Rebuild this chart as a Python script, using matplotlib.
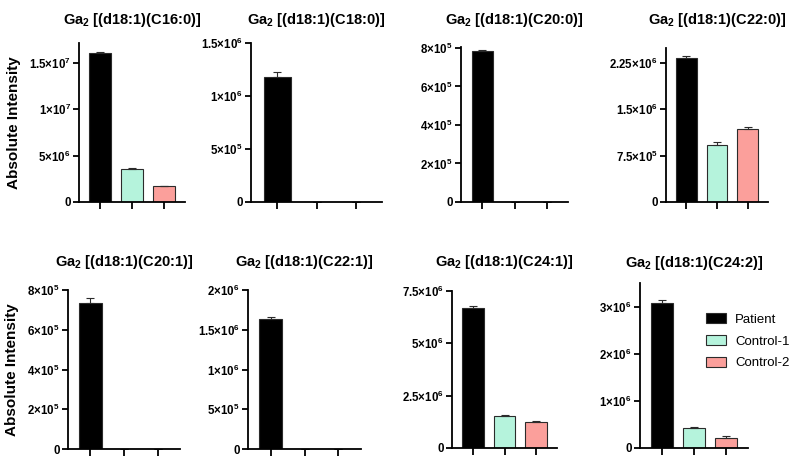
import numpy as np
import matplotlib.pyplot as plt
from matplotlib.patches import Patch

plt.rcParams['font.family'] = ['Liberation Sans', 'DejaVu Sans']
plt.rcParams['mathtext.fontset'] = 'custom'
plt.rcParams['mathtext.bf'] = 'Liberation Sans:bold'
plt.rcParams['mathtext.rm'] = 'Liberation Sans:bold'
plt.rcParams['mathtext.default'] = 'bf'

groups = ['Patient', 'Control-1', 'Control-2']
colors = ['#000000', '#b5f3dc', '#fb9f9b']

titles = ['C16:0', 'C18:0', 'C20:0', 'C22:0',
          'C20:1', 'C22:1', 'C24:1', 'C24:2']

# mittelwerte je panel (Patient, Control-1, Control-2)
means_c16_0 = [1.60e7, 3.50e6, 1.72e6]
means_c18_0 = [1.175e6, 0, 0]
means_c20_0 = [7.84e5, 0, 0]
means_c22_0 = [2.33e6, 9.2e5, 1.18e6]
means_c20_1 = [7.35e5, 0, 0]
means_c22_1 = [1.635e6, 0, 0]
means_c24_1 = [6.68e6, 1.55e6, 1.25e6]
means_c24_2 = [3.08e6, 4.2e5, 2.1e5]

# fehlerbalken (nur nach oben)
err_c16_0 = [1.2e5, 1.1e5, 5e4]
err_c18_0 = [5.5e4, 0, 0]
err_c20_0 = [4e3, 0, 0]
err_c22_0 = [3.7e4, 5.4e4, 2.6e4]
err_c20_1 = [2.5e4, 0, 0]
err_c22_1 = [3.0e4, 0, 0]
err_c24_1 = [1.0e5, 2.0e4, 3.0e4]
err_c24_2 = [5.0e4, 3.5e4, 3.5e4]

yticks_c16_0 = [0, 5e6, 1e7, 1.5e7]
yticks_c18_0 = [0, 5e5, 1e6, 1.5e6]
yticks_c20_0 = [0, 2e5, 4e5, 6e5, 8e5]
yticks_c22_0 = [0, 7.5e5, 1.5e6, 2.25e6]
yticks_c20_1 = [0, 2e5, 4e5, 6e5, 8e5]
yticks_c22_1 = [0, 5e5, 1e6, 1.5e6, 2e6]
yticks_c24_1 = [0, 2.5e6, 5e6, 7.5e6]
yticks_c24_2 = [0, 1e6, 2e6, 3e6]

ylabels_c16_0 = ['0', '5×10$^{6}$', '1×10$^{7}$', '1.5×10$^{7}$']
ylabels_c18_0 = ['0', '5×10$^{5}$', '1×10$^{6}$', '1.5×10$^{6}$']
ylabels_c20_0 = ['0', '2×10$^{5}$', '4×10$^{5}$', '6×10$^{5}$', '8×10$^{5}$']
ylabels_c22_0 = ['0', '7.5×10$^{5}$', '1.5×10$^{6}$', '2.25×10$^{6}$']
ylabels_c20_1 = ['0', '2×10$^{5}$', '4×10$^{5}$', '6×10$^{5}$', '8×10$^{5}$']
ylabels_c22_1 = ['0', '5×10$^{5}$', '1×10$^{6}$', '1.5×10$^{6}$', '2×10$^{6}$']
ylabels_c24_1 = ['0', '2.5×10$^{6}$', '5×10$^{6}$', '7.5×10$^{6}$']
ylabels_c24_2 = ['0', '1×10$^{6}$', '2×10$^{6}$', '3×10$^{6}$']

ytop = [1.71e7, 1.5e6, 8.05e5, 2.49e6, 8e5, 2e6, 7.5e6, 3.5e6]

means = [means_c16_0, means_c18_0, means_c20_0, means_c22_0,
         means_c20_1, means_c22_1, means_c24_1, means_c24_2]
errs = [err_c16_0, err_c18_0, err_c20_0, err_c22_0,
        err_c20_1, err_c22_1, err_c24_1, err_c24_2]
yticks = [yticks_c16_0, yticks_c18_0, yticks_c20_0, yticks_c22_0,
          yticks_c20_1, yticks_c22_1, yticks_c24_1, yticks_c24_2]
ylabels = [ylabels_c16_0, ylabels_c18_0, ylabels_c20_0, ylabels_c22_0,
           ylabels_c20_1, ylabels_c22_1, ylabels_c24_1, ylabels_c24_2]

W, H = 798, 467
# achsen in pixeln: links, rechts, oben, unten
boxes = [(79, 185, 43, 202), (251, 382, 43, 202), (461, 568, 47, 202), (666, 768, 48, 202),
         (68, 180, 290, 449), (248, 361, 290, 449), (452, 557, 291, 448), (640, 748, 283, 448)]
title_y = [20, 20, 20, 20, 262, 262, 262, 263]

fig = plt.figure(figsize=(W / 100, H / 100), dpi=100)
x = np.arange(3)

for i in range(8):
    l, r, t, b = boxes[i]
    ax = fig.add_axes([l / W, 1 - b / H, (r - l) / W, (b - t) / H])
    ax.bar(x, means[i], width=0.68, color=colors, edgecolor='#2b2b2b', linewidth=0.8)
    ax.errorbar(x, means[i], yerr=[np.zeros(3), errs[i]], fmt='none',
                ecolor='#2b2b2b', elinewidth=0.8, capsize=3, capthick=0.8)
    ax.set_xlim(-0.67, 2.67)
    ax.set_ylim(0, ytop[i])
    ax.set_xticks(x)
    ax.set_xticklabels([])
    ax.set_yticks(yticks[i])
    ax.set_yticklabels(ylabels[i], fontsize=8.3, fontweight='bold')
    ax.spines['top'].set_visible(False)
    ax.spines['right'].set_visible(False)
    ax.spines['left'].set_linewidth(1.3)
    ax.spines['bottom'].set_linewidth(1.3)
    ax.tick_params(axis='both', width=1.3, length=4, pad=2)
    ax.tick_params(axis='x', length=5)
    fig.text((l + r) / 2 / W, 1 - title_y[i] / H, 'Ga$_{2}$ [(d18:1)(' + titles[i] + ')]',
             fontsize=10.5, fontweight='bold', ha='center', va='center')
    if i in (0, 4):
        ax.set_ylabel('Absolute Intensity', fontsize=11, fontweight='bold', labelpad=6)
    if i == 7:
        handles = [Patch(facecolor=c, edgecolor='#2b2b2b', linewidth=0.8) for c in colors]
        ax.legend(handles, groups, loc='upper left', bbox_to_anchor=(0.5, 0.89),
                  frameon=False, fontsize=9.5, handlelength=1.5, handleheight=0.8,
                  handletextpad=0.7, labelspacing=0.7)

fig.savefig('out.png', dpi=100)
